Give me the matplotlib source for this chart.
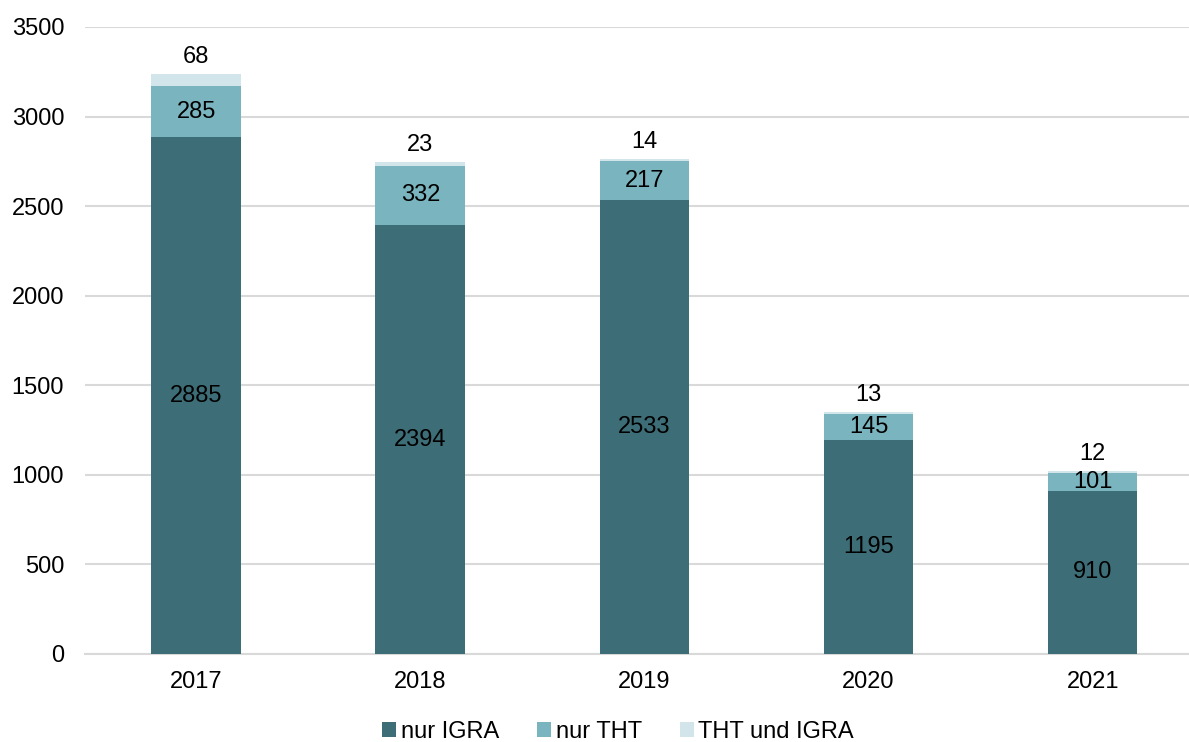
import matplotlib.pyplot as plt
import numpy as np

years = ["2017", "2018", "2019", "2020", "2021"]
nur_igra = [2885, 2394, 2533, 1195, 910]
nur_tht = [285, 332, 217, 145, 101]
tht_und_igra = [68, 23, 14, 13, 12]

C_IGRA = "#3d6e77"
C_THT = "#7ab4bf"
C_BOTH = "#d2e5ea"

plt.rcParams["font.family"] = ["Liberation Sans", "DejaVu Sans"]

fig = plt.figure(figsize=(11.89, 7.42), dpi=100)
ax = fig.add_axes([85 / 1189, 1 - 654 / 742, 1104 / 1189, 627 / 742])

x = np.arange(len(years))
w = 0.40
igra = np.array(nur_igra)
tht = np.array(nur_tht)
both = np.array(tht_und_igra)

b1 = ax.bar(x, igra, w, color=C_IGRA, label="nur IGRA", zorder=3)
b2 = ax.bar(x, tht, w, bottom=igra, color=C_THT, label="nur THT", zorder=3)
b3 = ax.bar(x, both, w, bottom=igra + tht, color=C_BOTH, label="THT und IGRA", zorder=3)

fs = 17
for i in range(len(years)):
    ax.text(x[i], igra[i] / 2, str(igra[i]), ha="center", va="center", fontsize=fs, zorder=4)
    ax.text(x[i], igra[i] + tht[i] / 2, str(tht[i]), ha="center", va="center", fontsize=fs, zorder=4)
    ax.annotate(str(both[i]), (x[i], igra[i] + tht[i] + both[i]), xytext=(0, 4),
                textcoords="offset points", ha="center", va="bottom", fontsize=fs, zorder=4)

ax.set_xlim(-0.496, 4.43)
ax.set_ylim(0, 3500)
ax.set_yticks(range(0, 3501, 500))
ax.set_xticks(x)
ax.set_xticklabels(years)
ax.tick_params(axis="both", length=0, labelsize=fs, colors="black")
ax.tick_params(axis="y", pad=15)
ax.tick_params(axis="x", pad=12)
ax.grid(axis="y", color="#d9d9d9", lw=1.5, zorder=0)
for s in ["top", "right", "left"]:
    ax.spines[s].set_visible(False)
ax.spines["bottom"].set_color("#d9d9d9")
ax.spines["bottom"].set_linewidth(1.5)

fig.legend(handles=[b1, b2, b3], loc="center", bbox_to_anchor=(618 / 1189, 1 - 732 / 742),
           ncol=3, frameon=False, fontsize=fs, handlelength=0.6, handleheight=0.6,
           handletextpad=0.2, columnspacing=1.6)

fig.savefig("out.png", dpi=100)
